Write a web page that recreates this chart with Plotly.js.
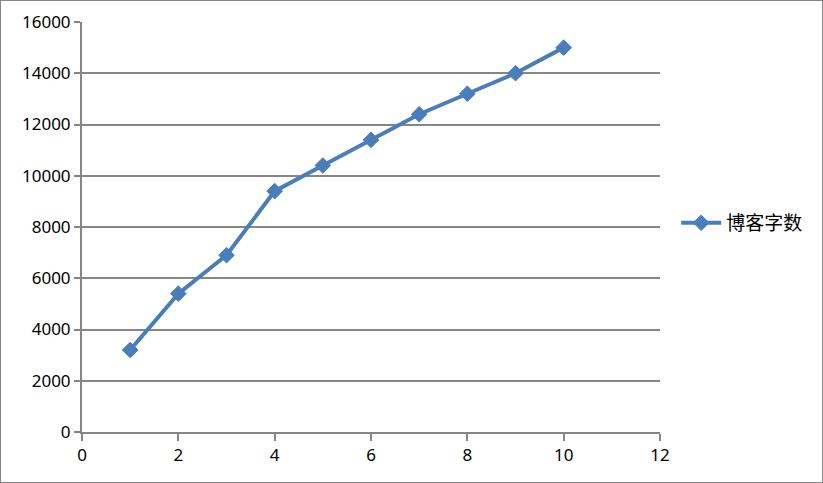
<!DOCTYPE html>
<html>
<head>
<meta charset="utf-8">
<script src="https://cdn.plot.ly/plotly-3.0.1.min.js"></script>
<style>
html,body{margin:0;padding:0;background:#fff;}
#wrap{position:relative;width:823px;height:483px;}
#chart{width:823px;height:483px;}
#frame{position:absolute;left:0;top:0;width:821px;height:481px;border:1px solid #868686;pointer-events:none;}
</style>
</head>
<body>
<div id="wrap"><div id="chart"></div><div id="frame"></div></div>
<script>
const xValues = [1, 2, 3, 4, 5, 6, 7, 8, 9, 10];
const wordCounts = [3200, 5400, 6900, 9400, 10400, 11400, 12400, 13200, 14000, 15000];
const seriesName = '博客字数';

const axisColor = '#868686';
const tickFont = {family: 'Noto Sans, DejaVu Sans, sans-serif', size: 17, color: '#000'};

const trace = {
  x: xValues,
  y: wordCounts,
  name: seriesName,
  type: 'scatter',
  mode: 'lines+markers',
  line: {color: '#4a7ebb', width: 4},
  marker: {symbol: 'diamond', size: 12, color: '#4a7ebb', line: {color: '#4a7ebb', width: 1}}
};

const layout = {
  width: 823, height: 483,
  margin: {l: 82, r: 163, t: 22, b: 51, pad: 0},
  paper_bgcolor: '#fff', plot_bgcolor: '#fff',
  showlegend: true,
  legend: {x: 1.028, y: 0.51, xanchor: 'left', yanchor: 'middle',
    font: {family: 'Noto Sans CJK SC, sans-serif', size: 19, color: '#000'},
    itemwidth: 40, tracegroupgap: 0, borderwidth: 0},
  xaxis: {
    range: [0, 12], dtick: 2, tick0: 0, showgrid: false, zeroline: false,
    showline: true, linecolor: axisColor, linewidth: 2,
    ticks: 'outside', ticklen: 7, tickwidth: 2, tickcolor: axisColor,
    tickfont: tickFont, tickformat: 'd', fixedrange: true
  },
  yaxis: {
    range: [0, 16000], dtick: 2000, tick0: 0, showgrid: true, gridcolor: axisColor, gridwidth: 2,
    zeroline: false, showline: true, linecolor: axisColor, linewidth: 2,
    ticks: 'outside', ticklen: 6, tickwidth: 2, tickcolor: axisColor,
    tickfont: tickFont, tickformat: 'd', fixedrange: true
  }
};

Plotly.newPlot('chart', [trace], layout, {displayModeBar: false, staticPlot: true});
</script>
</body>
</html>
